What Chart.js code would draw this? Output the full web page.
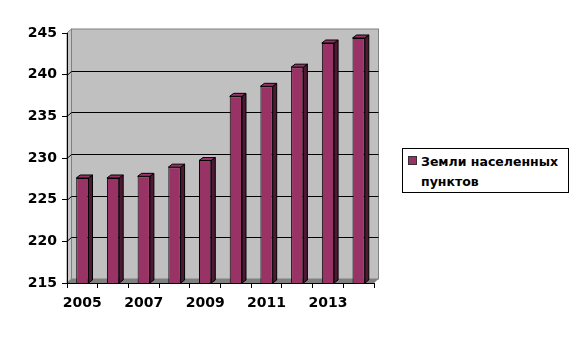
<!DOCTYPE html>
<html>
<head>
<meta charset="utf-8">
<script src="https://cdn.jsdelivr.net/npm/chart.js@4.4.1/dist/chart.umd.min.js"></script>
<style>
  body { margin: 0; background: #fff; }
  #wrap { position: relative; width: 578px; height: 341px; }
  #legend {
    position: absolute; left: 402px; top: 148px; width: 167px; height: 45px;
    box-sizing: border-box; border: 1px solid #000; background: #fff;
    font: bold 12.5px "DejaVu Sans", sans-serif; color: #000;
  }
  #legend .swatch {
    position: absolute; left: 5px; top: 7px; width: 9px; height: 9px;
    box-sizing: border-box; background: #993366; border: 1px solid #333;
  }
  #legend .txt { position: absolute; left: 18px; top: 3px; line-height: 19.5px; white-space: nowrap; }
</style>
</head>
<body>
<div id="wrap">
  <canvas id="chart" width="578" height="341"></canvas>
  <div id="legend"><div class="swatch"></div><div class="txt">Земли населенных<br>пунктов</div></div>
</div>
<script>
// data
const years = ['2005', '2006', '2007', '2008', '2009', '2010', '2011', '2012', '2013', '2014'];
const settlementLand = [227.6, 227.6, 227.8, 228.9, 229.7, 237.4, 238.6, 240.9, 243.8, 244.4];
const yMin = 215, yMax = 245, yStep = 5;

// gray walls, floor and gridlines on the back wall (fake 3D)
const wallPlugin = {
  id: 'walls',
  beforeDraw(chart) {
    const { ctx, chartArea: a, scales } = chart;
    const dx = 4.5, dy = 4;
    ctx.save();
    ctx.fillStyle = '#c0c0c0';
    ctx.fillRect(a.left + dx, a.top - dy, a.right - a.left, a.bottom - a.top);
    // left wall
    ctx.beginPath();
    ctx.moveTo(a.left, a.top);
    ctx.lineTo(a.left + dx, a.top - dy);
    ctx.lineTo(a.left + dx, a.bottom - dy);
    ctx.lineTo(a.left, a.bottom);
    ctx.closePath();
    ctx.fillStyle = '#c8c8c8';
    ctx.fill();
    ctx.strokeStyle = '#808080';
    ctx.lineWidth = 1;
    ctx.stroke();
    // floor
    ctx.beginPath();
    ctx.moveTo(a.left, a.bottom);
    ctx.lineTo(a.left + dx, a.bottom - dy);
    ctx.lineTo(a.right + dx, a.bottom - dy);
    ctx.lineTo(a.right, a.bottom);
    ctx.closePath();
    ctx.fillStyle = '#808080';
    ctx.fill();
    // back wall outline
    ctx.strokeStyle = '#808080';
    ctx.strokeRect(a.left + dx, a.top - dy, a.right - a.left, a.bottom - a.top);
    // gridlines
    ctx.strokeStyle = '#000';
    ctx.lineWidth = 1;
    scales.y.ticks.forEach(t => {
      if (t.value <= yMin || t.value >= yMax) return;
      const y = Math.round(scales.y.getPixelForValue(t.value)) + 0.5;
      ctx.beginPath();
      ctx.moveTo(a.left, y);
      ctx.lineTo(a.left + dx, y - dy);
      ctx.lineTo(a.right + dx, y - dy);
      ctx.stroke();
    });
    ctx.restore();
  }
};

// side and top faces of the bars
const barDepthPlugin = {
  id: 'barDepth',
  afterDatasetsDraw(chart) {
    const ctx = chart.ctx;
    const bx = 4, by = 3;
    const bottom = chart.chartArea.bottom;
    ctx.save();
    ctx.strokeStyle = '#000';
    ctx.lineWidth = 1;
    chart.getDatasetMeta(0).data.forEach(bar => {
      const { x, y, width } = bar.getProps(['x', 'y', 'width'], true);
      const base = bottom;
      const l = x - width / 2, r = x + width / 2;
      ctx.beginPath();
      ctx.moveTo(r, y);
      ctx.lineTo(r + bx, y - by);
      ctx.lineTo(r + bx, base - by);
      ctx.lineTo(r, base);
      ctx.closePath();
      ctx.fillStyle = '#4d1933';
      ctx.fill();
      ctx.stroke();
      ctx.beginPath();
      ctx.moveTo(l, y);
      ctx.lineTo(l + bx, y - by);
      ctx.lineTo(r + bx, y - by);
      ctx.lineTo(r, y);
      ctx.closePath();
      ctx.fillStyle = '#993366';
      ctx.fill();
      ctx.stroke();
    });
    ctx.restore();
  }
};

const tickFont = { family: '"DejaVu Sans", sans-serif', size: 14, weight: 'bold' };

new Chart(document.getElementById('chart'), {
  type: 'bar',
  data: {
    labels: years,
    datasets: [{
      label: 'Земли населенных пунктов',
      data: settlementLand,
      backgroundColor: '#993366',
      borderColor: '#000',
      borderWidth: 1,
      barPercentage: 0.4,
      categoryPercentage: 1
    }]
  },
  options: {
    responsive: false,
    animation: false,
    layout: { padding: { top: 33, right: 204, bottom: 0, left: 0 } },
    plugins: {
      legend: { display: false },
      tooltip: { enabled: false }
    },
    scales: {
      x: {
        afterFit: s => { s.height = 58; },
        grid: { offset: true, drawOnChartArea: false, tickLength: 5, color: '#000' },
        border: { display: true, color: '#000' },
        ticks: {
          color: '#000', font: tickFont, padding: 7, maxRotation: 0, autoSkip: false,
          callback: (v, i) => i % 2 === 0 ? years[i] : ''
        }
      },
      y: {
        min: yMin,
        max: yMax,
        afterFit: s => { s.width = 67; },
        grid: { drawOnChartArea: false, tickLength: 5, color: '#000' },
        border: { display: true, color: '#000' },
        ticks: { stepSize: yStep, color: '#000', font: tickFont, padding: 5 }
      }
    }
  },
  plugins: [wallPlugin, barDepthPlugin]
});
</script>
</body>
</html>
